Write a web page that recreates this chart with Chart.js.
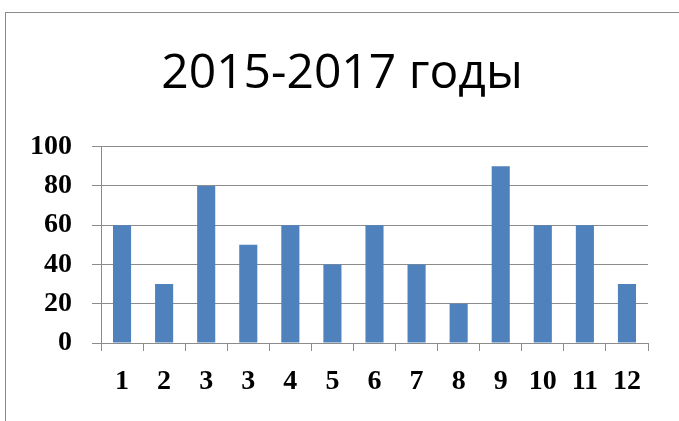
<!DOCTYPE html>
<html>
<head>
<meta charset="utf-8">
<script src="https://cdn.jsdelivr.net/npm/chart.js@4"></script>
<style>
    html, body { margin: 0; padding: 0; background: #fff; }
    #wrap { position: relative; width: 679px; height: 421px; overflow: hidden; }
    #frame {
        position: absolute; left: 5px; top: 12px; width: 700px; height: 460px;
        border: 1px solid #8c8c8c; box-sizing: border-box;
    }
    canvas { position: absolute; left: 0; top: 0; }
</style>
</head>
<body>
<div id="wrap">
    <div id="frame"></div>
    <canvas id="chart" width="679" height="421"></canvas>
</div>
<script>
// данные диаграммы
const categories = ['1', '2', '3', '3', '4', '5', '6', '7', '8', '9', '10', '11', '12'];
const values = [60, 30, 80, 50, 60, 40, 60, 40, 20, 90, 60, 60, 30];
const yTicks = [0, 20, 40, 60, 80, 100];

const tickFont = { family: 'Liberation Serif', size: 28, weight: 'bold' };

// подписи оси Y не должны обрезаться левым отступом
const widenYAxis = {
    id: 'widenYAxis',
    afterLayout(chart) {
        chart.scales.y.left = 0;
    }
};

const ctx = document.getElementById('chart').getContext('2d');
new Chart(ctx, {
    type: 'bar',
    data: {
        labels: categories,
        datasets: [{
            data: values,
            backgroundColor: '#4f81bd',
            borderWidth: 0,
            barPercentage: 0.43,
            categoryPercentage: 1
        }]
    },
    plugins: [widenYAxis],
    options: {
        responsive: false,
        animation: false,
        layout: { padding: { left: 36, right: 31, top: 0, bottom: 0 } },
        plugins: {
            legend: { display: false },
            tooltip: { enabled: false },
            title: {
                display: true,
                text: '2015-2017 годы',
                color: '#000',
                font: { family: 'Open Sans', size: 48, weight: 'normal', lineHeight: 1.2 },
                padding: { top: 46, bottom: 43 }
            }
        },
        scales: {
            x: {
                afterFit: axis => { axis.height = 78; },
                grid: {
                    offset: true,
                    drawOnChartArea: false,
                    drawTicks: true,
                    tickLength: 8,
                    color: '#8c8c8c'
                },
                border: { color: '#8c8c8c' },
                ticks: {
                    color: '#000',
                    font: tickFont,
                    padding: 14,
                    maxRotation: 0,
                    autoSkip: false
                }
            },
            y: {
                min: 0,
                max: 100,
                afterFit: axis => { axis.width = 65; },
                afterBuildTicks: axis => { axis.ticks = yTicks.map(v => ({ value: v })); },
                grid: { color: '#8c8c8c', tickLength: 9 },
                border: { color: '#8c8c8c' },
                ticks: {
                    color: '#000',
                    font: tickFont,
                    padding: 20
                }
            }
        }
    }
});
</script>
</body>
</html>
